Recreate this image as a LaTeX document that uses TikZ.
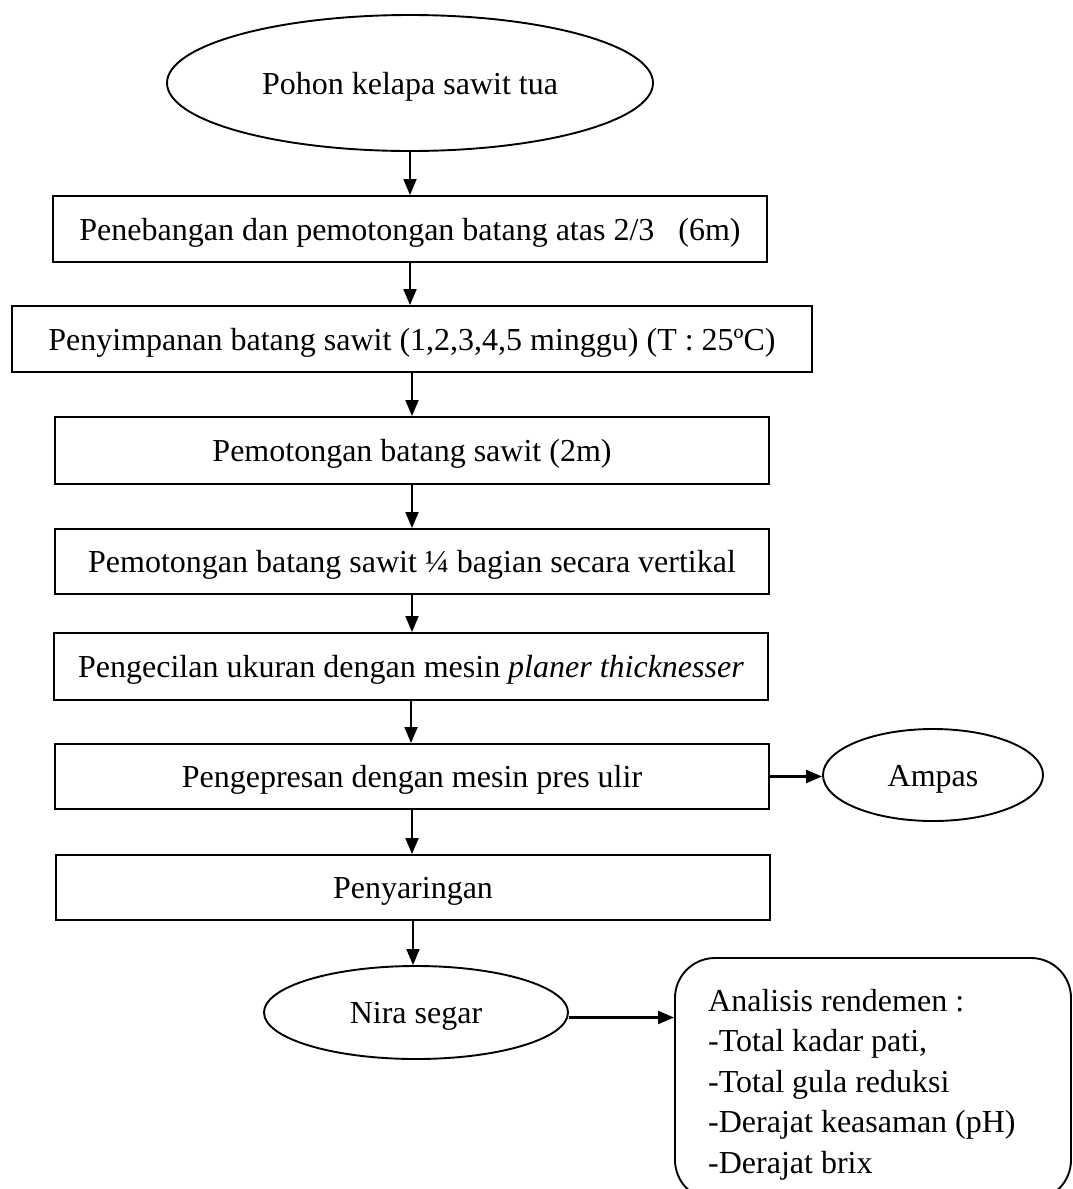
\documentclass[tikz,border=0pt]{standalone}
\usepackage{fontspec}
\setmainfont{Liberation Serif}
\usetikzlibrary{shapes.geometric,arrows.meta}
\begin{document}
\begin{tikzpicture}[x=1pt,y=-1pt,
  every node/.style={font=\fontsize{32}{40.5}\selectfont},
  procbox/.style={draw,line width=1.9pt,inner sep=0pt,text height=23pt,text depth=1pt},
  oval/.style={draw,ellipse,line width=1.9pt,inner sep=0pt,text height=23pt,text depth=1pt},
  anabox/.style={draw,line width=1.9pt,rounded corners=40pt,inner sep=0pt},
  arr/.style={line width=1.8pt,-{Triangle[length=16pt,width=13pt]}},
  sidearr/.style={line width=2.2pt,-{Triangle[length=16pt,width=13pt]}},
  linetext/.style={anchor=base west,inner sep=0pt}
  ]
\useasboundingbox (0,0) rectangle (1073,1189);
% top ellipse
\node[oval,minimum width=486pt,minimum height=136pt] (top) at (410,83) {Pohon kelapa sawit tua};
% process boxes
\node[procbox,minimum width=714pt,minimum height=66pt] (b1) at (410,229) {Penebangan dan pemotongan batang atas 2/3~~~(6m)};
\node[procbox,minimum width=800pt,minimum height=66pt] (b2) at (412,339) {Penyimpanan batang sawit (1,2,3,4,5 minggu) (T : 25ºC)};
\node[procbox,minimum width=714pt,minimum height=67pt] (b3) at (412,450.5) {Pemotongan batang sawit (2m)};
\node[procbox,minimum width=714pt,minimum height=65pt] (b4) at (412,561.5) {Pemotongan batang sawit ¼ bagian secara vertikal};
\node[procbox,minimum width=714pt,minimum height=67pt] (b5) at (411,666.5) {Pengecilan ukuran dengan mesin \textit{planer thicknesser}};
\node[procbox,minimum width=714pt,minimum height=65pt] (b6) at (412,776.5) {Pengepresan dengan mesin pres ulir};
\node[procbox,minimum width=714pt,minimum height=65pt] (b7) at (413,887.5) {Penyaringan};
% side ellipses
\node[oval,minimum width=220pt,minimum height=92pt] (amp) at (933,775) {Ampas};
\node[oval,minimum width=304pt,minimum height=93pt] (nira) at (416,1012.5) {Nira segar};
% analysis box
\node[anabox,minimum width=396pt,minimum height=242pt] (ana) at (873,1079) {};
\node[linetext] (l1) at (708,1011) {Analisis rendemen :};
\node[linetext] (l2) at (708,1051.5) {-Total kadar pati,};
\node[linetext] (l3) at (708,1092) {-Total gula reduksi};
\node[linetext] (l4) at (708,1132.5) {-Derajat keasaman (pH)};
\node[linetext] (l5) at (708,1173) {-Derajat brix};
% connectors
\draw[arr] (top.south) -- (top.south |- b1.north);
\draw[arr] (b1.south) -- (b1.south |- b2.north);
\draw[arr] (b3.north |- b2.south) -- (b3.north);
\draw[arr] (b3.south) -- (b3.south |- b4.north);
\draw[arr] (b4.south) -- (b4.south |- b5.north);
\draw[arr] (b5.south) -- (b5.south |- b6.north);
\draw[arr] (b6.south) -- (b6.south |- b7.north);
\draw[arr] (b7.south) -- (b7.south |- nira.north);
\draw[sidearr] (b6.east) -- (b6.east -| amp.west);
\draw[sidearr] ([yshift=-5pt]nira.east) -- ([yshift=-5pt]nira.east -| ana.west);
\end{tikzpicture}
\end{document}
